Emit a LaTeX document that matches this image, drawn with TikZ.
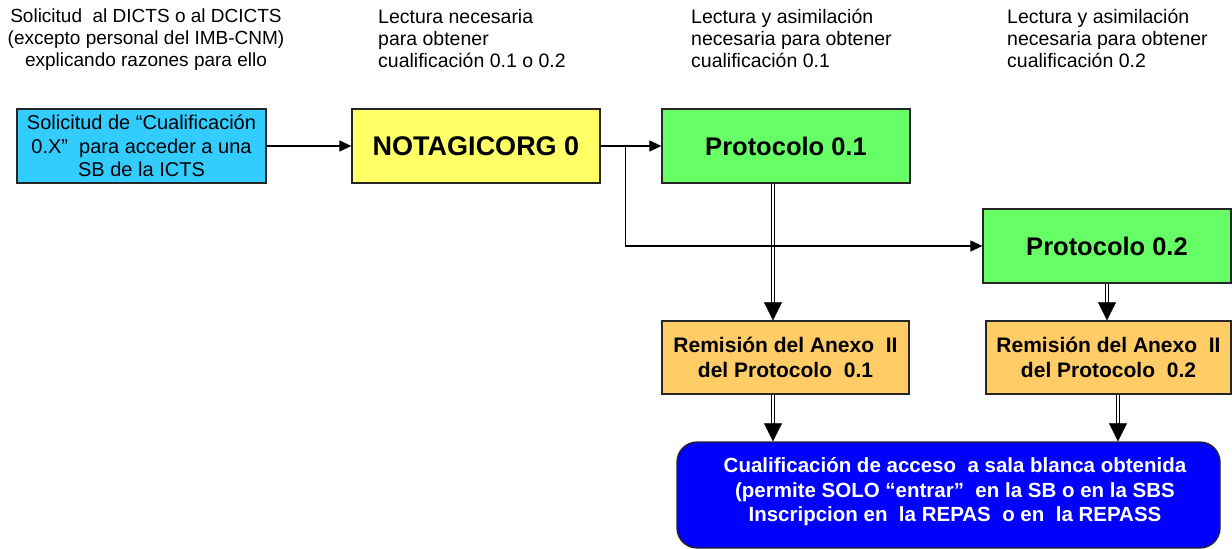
\documentclass[tikz,border=0pt]{standalone}
\usepackage{fontspec}
\setmainfont{Liberation Sans}
\usetikzlibrary{arrows.meta,calc}
\definecolor{cyanbox}{HTML}{33CCFF}
\definecolor{yelbox}{HTML}{FFFF66}
\definecolor{grnbox}{HTML}{66FF66}
\definecolor{orgbox}{HTML}{FFCC66}
\definecolor{bluebox}{HTML}{0000FF}
\begin{document}
\begin{tikzpicture}[x=1pt,y=-1pt,
  box/.style={draw=black!85, line width=1.3pt, inner sep=0pt, minimum width=248pt, minimum height=74pt, align=center},
  lab/.style={font=\fontsize{19.5}{22}\selectfont, inner sep=0pt, align=left, anchor=north west},
  conn/.style={line width=1.2pt, -{Triangle[length=12pt,width=11pt]}},
  dbl/.style={double, double distance=2.6pt, line width=1.1pt},
  tipst/.style={-{Triangle[length=18pt,width=18pt]}}
]
\useasboundingbox (0,0) rectangle (1232,549);

% top labels
\node[lab, font=\fontsize{19}{22}\selectfont, align=center, anchor=north] (lab1) at (146,9) {Solicitud\ \ al DICTS o al DCICTS\\(excepto personal del IMB-CNM)\\explicando razones para ello};
\node[lab] (lab2) at (378,9) {Lectura necesaria\\para obtener\\cualificación 0.1 o 0.2};
\node[lab] (lab3) at (691,9) {Lectura y asimilación\\necesaria para obtener\\cualificación 0.1};
\node[lab] (lab4) at (1007,9) {Lectura y asimilación\\necesaria para obtener\\cualificación 0.2};

% boxes
\node[box, fill=cyanbox, minimum width=249pt, font=\fontsize{20}{23.5}\selectfont] (req) at (141.5,146) {Solicitud de “Cualificación\\0.X”\ \ para acceder a una\\SB de la ICTS};
\node[box, fill=yelbox, font=\bfseries\fontsize{27}{30}\selectfont] (nota) at (476,146) {NOTAGICORG 0};
\node[box, fill=grnbox, font=\bfseries\fontsize{25.5}{28}\selectfont] (p1) at (786,146) {Protocolo 0.1};
\node[box, fill=grnbox, font=\bfseries\fontsize{25.5}{28}\selectfont] (p2) at (1107,246) {Protocolo 0.2};
\node[box, fill=orgbox, minimum width=247pt, minimum height=73pt, font=\bfseries\fontsize{21}{25}\selectfont] (r1) at (785.5,357.5) {Remisión del Anexo\ \ II\\del Protocolo\ \ 0.1};
\node[box, fill=orgbox, minimum width=245pt, minimum height=73pt, font=\bfseries\fontsize{21}{25}\selectfont] (r2) at (1108.5,357.5) {Remisión del Anexo\ \ II\\del Protocolo\ \ 0.2};
\node[box, fill=bluebox, rounded corners=20pt, minimum width=543pt, minimum height=106pt] (res) at (948.5,495) {};
\node[text=white, font=\bfseries\fontsize{20.5}{24.5}\selectfont, align=center, inner sep=0pt] (restext) at (955,492) {Cualificación de acceso\ \ a sala blanca obtenida\\(permite SOLO “entrar”\ \ en la SB o en la SBS\\Inscripcion en\ \ la REPAS\ \ o en\ \ la REPASS};

% double arrows
\coordinate (c1) at (773,0);
\coordinate (c2) at (1107,0);
\coordinate (c3) at (1118,0);
\draw[dbl] (c1 |- p1.south) -- ($(c1 |- r1.north)+(0,-17)$);
\draw[tipst] ($(c1 |- r1.north)+(0,-18)$) -- (c1 |- r1.north);
\draw[dbl] (c2 |- p2.south) -- ($(c2 |- r2.north)+(0,-17)$);
\draw[tipst] ($(c2 |- r2.north)+(0,-18)$) -- (c2 |- r2.north);
\draw[dbl] (c1 |- r1.south) -- ($(c1 |- res.north)+(0,-17)$);
\draw[tipst] ($(c1 |- res.north)+(0,-18)$) -- (c1 |- res.north);
\draw[dbl] (c3 |- r2.south) -- ($(c3 |- res.north)+(0,-17)$);
\draw[tipst] ($(c3 |- res.north)+(0,-18)$) -- (c3 |- res.north);

% single arrows
\draw[conn] (req) -- (nota);
\draw[conn] (nota) -- (p1);
\coordinate (br) at ($(nota.east)+(25,0)$);
\draw[conn] (br) |- (p2.west);
\end{tikzpicture}
\end{document}
